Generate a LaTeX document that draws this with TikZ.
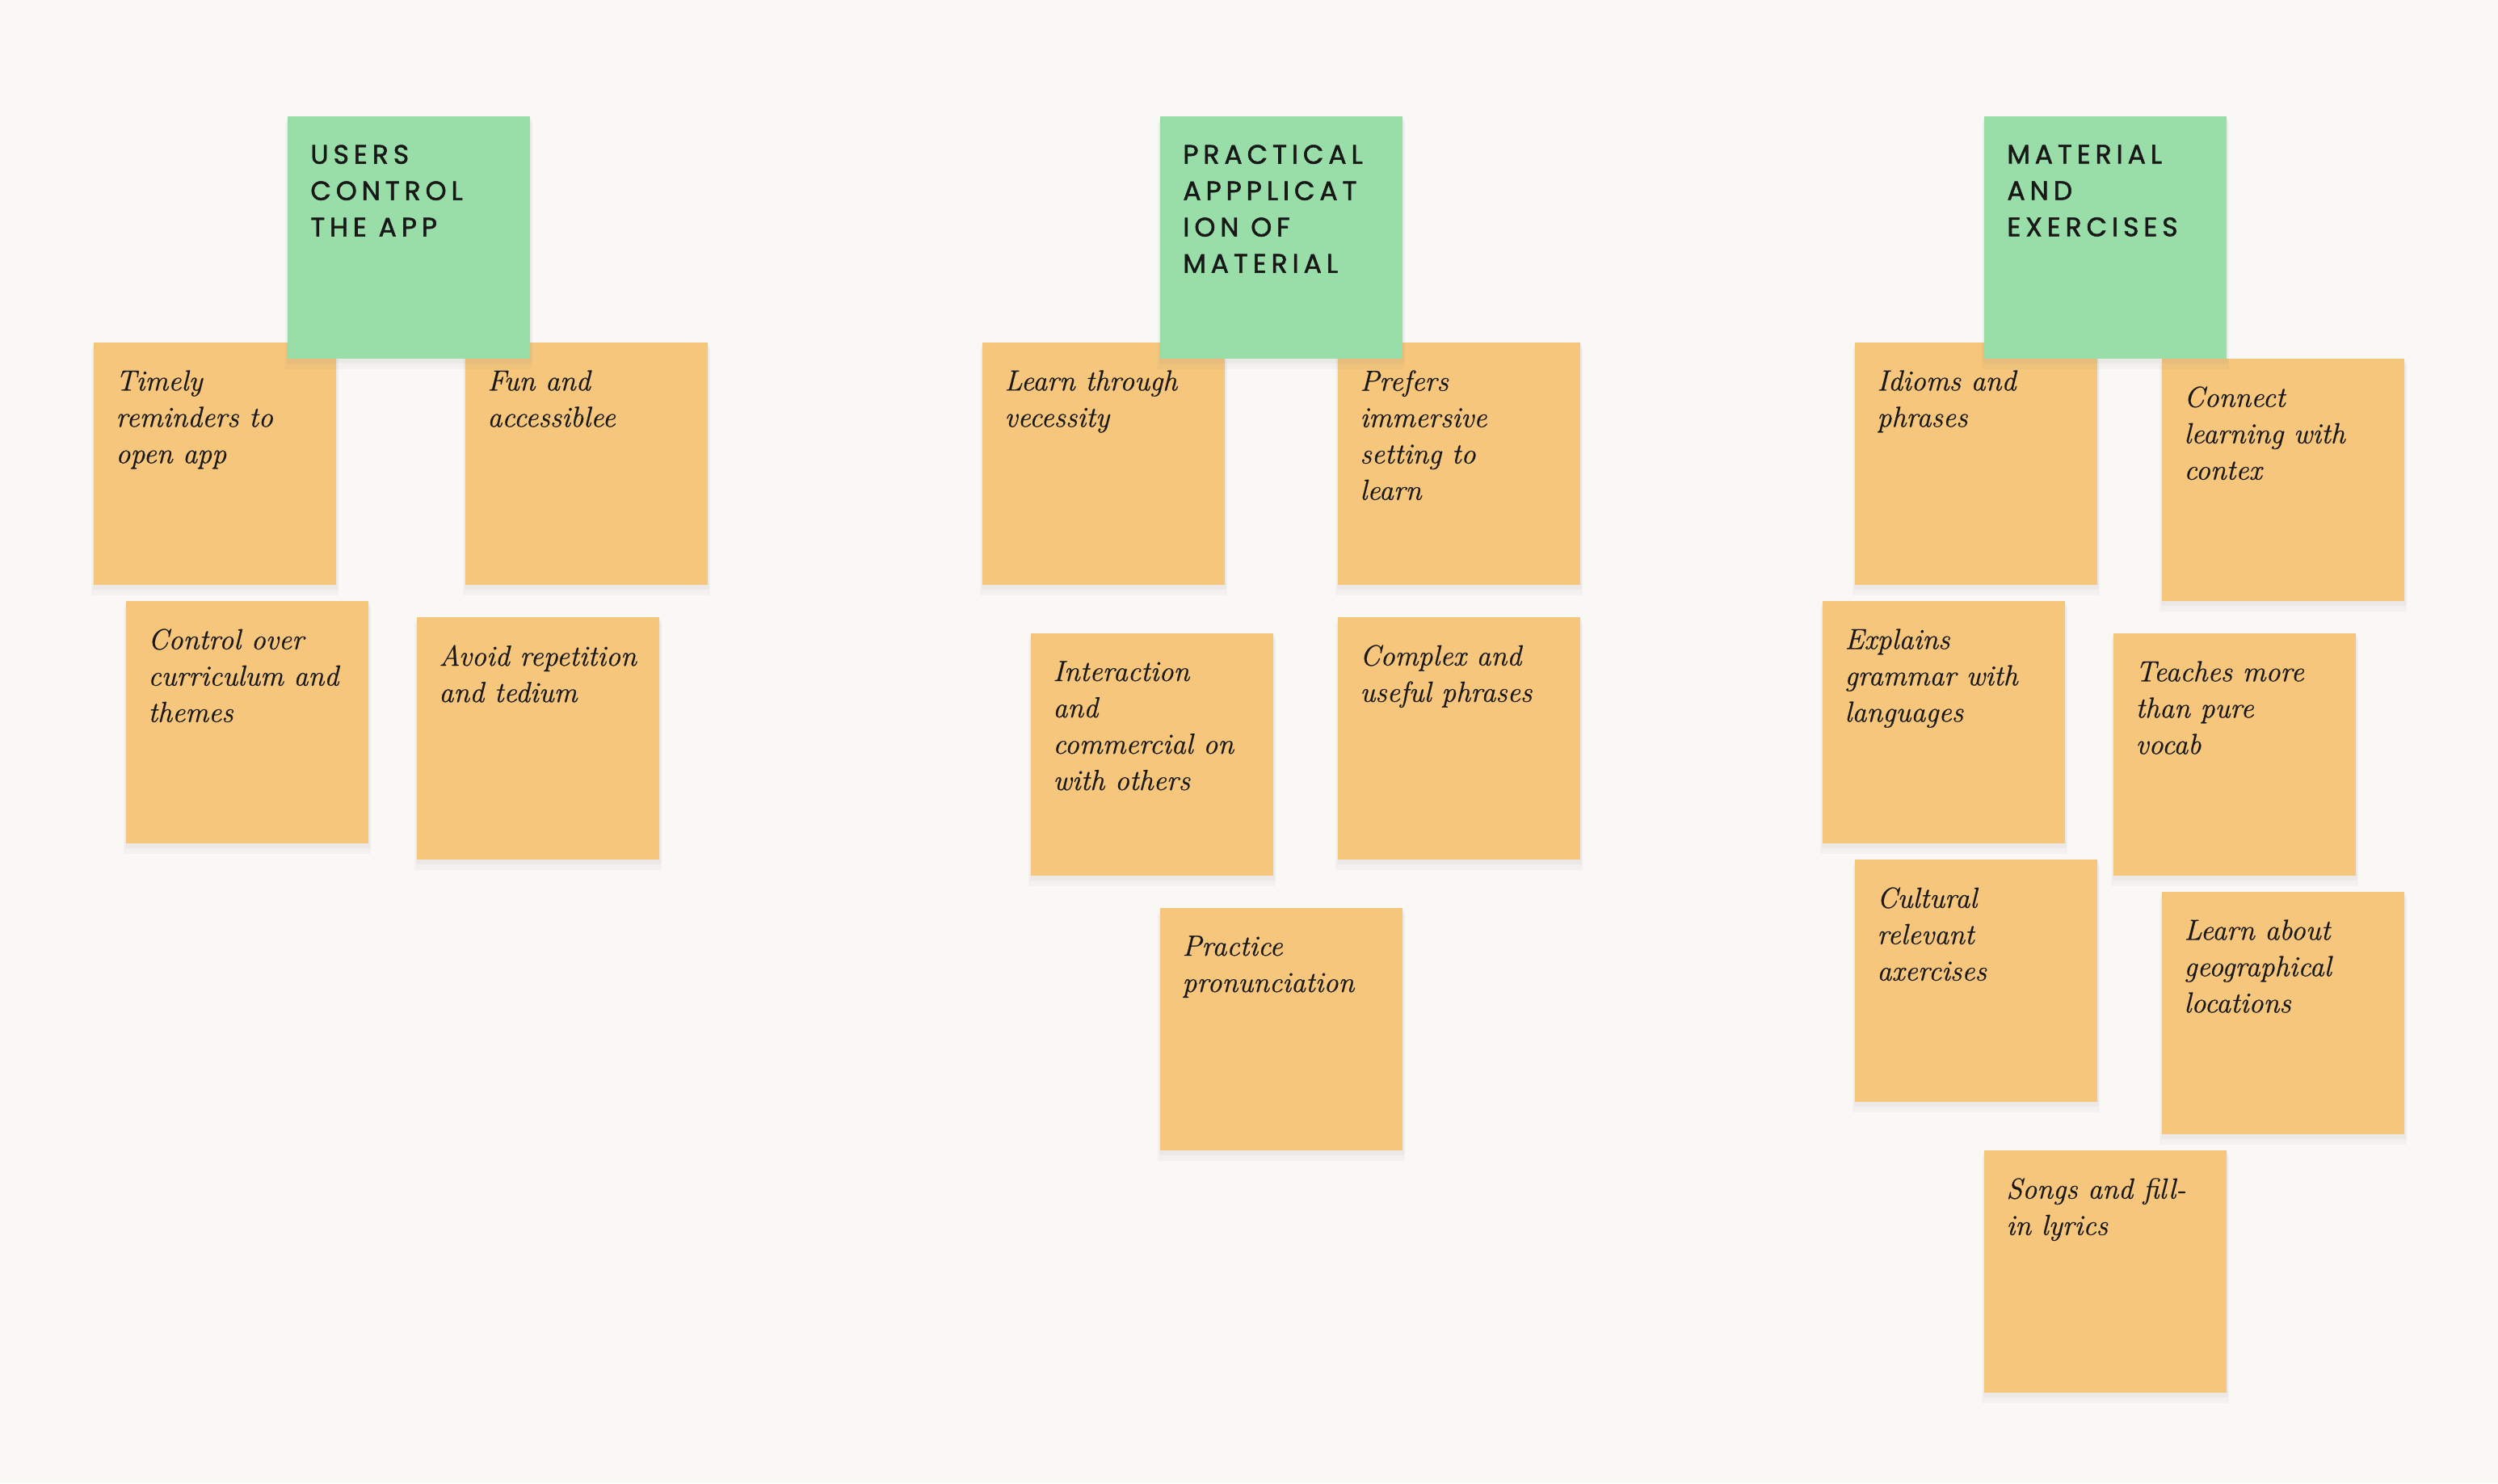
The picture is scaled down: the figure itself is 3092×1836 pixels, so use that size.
\documentclass[tikz,border=0pt]{standalone}
\usepackage{fontspec}
\usetikzlibrary{shadows}
\newfontfamily\titlefont[LetterSpace=18,FakeBold=1.6]{Poppins}
\newfontfamily\notefont[FakeBold=0.6]{Latin Modern Roman}
\definecolor{bgc}{RGB}{249,248,245}
\definecolor{noteorange}{RGB}{246,198,124}
\definecolor{notegreen}{RGB}{153,222,169}
\definecolor{inkc}{RGB}{24,24,24}
\begin{document}
\begin{tikzpicture}[x=0.5pt,y=-0.5pt,
  notebase/.style={anchor=north west, minimum width=150pt, minimum height=150pt,
    inner sep=0pt, outer sep=0pt,
    drop shadow={shadow xshift=0pt, shadow yshift=-2pt, opacity=0.07, shadow scale=1.01},
    drop shadow={shadow xshift=0pt, shadow yshift=-5pt, opacity=0.05, shadow scale=1.02}},
  onote/.style={notebase, fill=noteorange},
  gnote/.style={notebase, fill=notegreen},
  otext/.style={anchor=north west, inner sep=0pt, align=left, text=inkc,
    font=\notefont\fontsize{18}{22.5}\selectfont\itshape},
  gtext/.style={anchor=north west, inner sep=0pt, align=left, text=inkc,
    font=\titlefont\fontsize{16.5}{22.5}\selectfont}]
\useasboundingbox[fill=bgc] (0,0) rectangle (3092,1836);

% ---- Group 1 ----
\node[onote] (timely) at (116,424) {};
\node[otext] (timelyt) at ([shift={(27,34)}]timely.north west) {Timely\\reminders to\\open app};
\node[onote] (fun) at (576,424) {};
\node[otext] (funt) at ([shift={(27,34)}]fun.north west) {Fun and\\accessiblee};
\node[onote] (control) at (156,744) {};
\node[otext] (controlt) at ([shift={(27,34)}]control.north west) {Control over\\curriculum and\\themes};
\node[onote] (avoid) at (516,764) {};
\node[otext] (avoidt) at ([shift={(27,34)}]avoid.north west) {Avoid repetition\\and tedium};
\node[gnote] (users) at (356,144) {};
\node[gtext] (userst) at ([shift={(28,35)}]users.north west) {USERS\\CONTROL\\THE APP};

% ---- Group 2 ----
\node[onote] (learn) at (1216,424) {};
\node[otext] (learnt) at ([shift={(27,34)}]learn.north west) {Learn through\\vecessity};
\node[onote] (prefers) at (1656,424) {};
\node[otext] (preferst) at ([shift={(27,34)}]prefers.north west) {Prefers\\immersive\\setting to\\learn};
\node[onote] (inter) at (1276,784) {};
\node[otext] (intert) at ([shift={(27,34)}]inter.north west) {Interaction\\and\\commercial on\\with others};
\node[onote] (complex) at (1656,764) {};
\node[otext] (complext) at ([shift={(27,34)}]complex.north west) {Complex and\\useful phrases};
\node[onote] (practice) at (1436,1124) {};
\node[otext] (practicet) at ([shift={(27,34)}]practice.north west) {Practice\\pronunciation};
\node[gnote] (practical) at (1436,144) {};
\node[gtext] (practicalt) at ([shift={(28,35)}]practical.north west) {PRACTICAL\\APPPLICAT\\ION OF\\MATERIAL};

% ---- Group 3 ----
\node[onote] (idioms) at (2296,424) {};
\node[otext] (idiomst) at ([shift={(27,34)}]idioms.north west) {Idioms and\\phrases};
\node[onote] (connect) at (2676,444) {};
\node[otext] (connectt) at ([shift={(27,34)}]connect.north west) {Connect\\learning with\\contex};
\node[onote] (explains) at (2256,744) {};
\node[otext] (explainst) at ([shift={(27,34)}]explains.north west) {Explains\\grammar with\\languages};
\node[onote] (teaches) at (2616,784) {};
\node[otext] (teachest) at ([shift={(27,34)}]teaches.north west) {Teaches more\\than pure\\vocab};
\node[onote] (cultural) at (2296,1064) {};
\node[otext] (culturalt) at ([shift={(27,34)}]cultural.north west) {Cultural\\relevant\\axercises};
\node[onote] (geo) at (2676,1104) {};
\node[otext] (geot) at ([shift={(27,34)}]geo.north west) {Learn about\\geographical\\locations};
\node[onote] (songs) at (2456,1424) {};
\node[otext] (songst) at ([shift={(27,34)}]songs.north west) {Songs and fill-\\in lyrics};
\node[gnote] (material) at (2456,144) {};
\node[gtext] (materialt) at ([shift={(28,35)}]material.north west) {MATERIAL\\AND\\EXERCISES};
\end{tikzpicture}
\end{document}
